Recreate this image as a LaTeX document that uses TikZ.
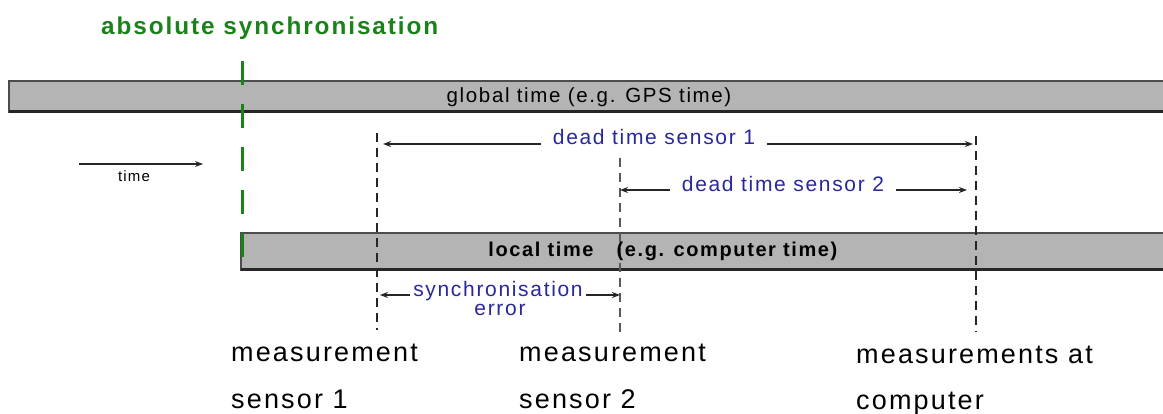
\documentclass[tikz,border=0pt]{standalone}
\usepackage{fontspec}
\setmainfont{Liberation Sans}
\newfontfamily\wideface[LetterSpace=8]{Liberation Sans}
\usetikzlibrary{arrows.meta}
\definecolor{syncgreen}{RGB}{25,130,25}
\definecolor{deadblue}{RGB}{40,40,155}
\definecolor{bargray}{RGB}{180,180,180}

\begin{document}
\begin{tikzpicture}[x=1pt, y=-1pt,
    timebar/.style={fill=bargray, draw=black!70, line width=1.2pt},
    barfoot/.style={line width=3pt, black!85},
    marker/.style={draw=black!85, line width=1.4pt, dash pattern=on 9pt off 6pt},
    syncline/.style={draw=syncgreen, line width=3pt, dash pattern=on 24pt off 19pt},
    dimarrow/.style={-{Stealth[length=8pt,width=6pt]}, line width=1.4pt, black!85},
    bluelabel/.style={text=deadblue, font=\wideface\fontsize{21}{25}\selectfont,
        inner sep=0pt, anchor=base},
    barlabel/.style={font=\wideface\fontsize{20.5}{24}\selectfont, inner sep=0pt,
        anchor=base},
    eventlabel/.style={font=\wideface\fontsize{27}{32}\selectfont, inner sep=0pt,
        anchor=base west}]
    \useasboundingbox (0,0) rectangle (1163,414);
    \filldraw[timebar] (9,81) rectangle (1180,112);
    \draw[barfoot] (9,112) -- (1180,112);
    \filldraw[timebar] (241,233) rectangle (1180,270);
    \draw[barfoot] (241,270) -- (1180,270);
    \coordinate (synctop) at (242,61);
    \coordinate (syncbot) at (242,257);
    \draw[syncline] (synctop) -- (syncbot);
    \coordinate (s1top) at (377,133);
    \coordinate (s1bot) at (377,330);
    \coordinate (s2top) at (620,158);
    \coordinate (s2bot) at (620,332);
    \coordinate (pctop) at (976,136);
    \coordinate (pcbot) at (976,332);
    \draw[marker] (s1top) -- (s1bot);
    \draw[marker, draw=black!65, line width=2pt] (s2top) -- (s2bot);
    \draw[marker] (pctop) -- (pcbot);
    \node[font=\wideface\bfseries\fontsize{24.3}{29}\selectfont, text=syncgreen,
        anchor=base west, inner sep=0pt] (abs) at (101,35) {absolute synchronisation};
    \node[barlabel] (gps) at (589,103) {global time (e.g. GPS time)};
    \node[barlabel, font=\wideface\bfseries\fontsize{20}{24}\selectfont]
        (loc) at (541,257) {local time};
    \node[barlabel, font=\wideface\bfseries\fontsize{20}{24}\selectfont]
        (pc) at (727,257) {(e.g. computer time)};
    \node[bluelabel, inner xsep=12pt] (dt1) at (654,145) {dead time sensor 1};
    \coordinate (dt1l) at (383,144);
    \coordinate (dt1r) at (973,144);
    \draw[dimarrow] (dt1.west |- dt1l) -- (dt1l);
    \draw[dimarrow] (dt1.east |- dt1r) -- (dt1r);
    \node[bluelabel, inner xsep=12pt] (dt2) at (783,192) {dead time sensor 2};
    \coordinate (dt2l) at (620,190);
    \coordinate (dt2r) at (967,190);
    \draw[dimarrow] (dt2.west |- dt2l) -- (dt2l);
    \draw[dimarrow] (dt2.east |- dt2r) -- (dt2r);
    \node[bluelabel, inner xsep=3pt] (sync) at (498,297) {synchronisation};
    \node[bluelabel] (err) at (500,316) {error};
    \coordinate (errl) at (380,295);
    \coordinate (errr) at (620,295);
    \draw[dimarrow] (sync.west |- errl) -- (errl);
    \draw[dimarrow] (sync.east |- errr) -- (errr);
    \coordinate (tstart) at (79,164);
    \coordinate (tend) at (203,164);
    \draw[dimarrow] (tstart) -- (tend);
    \node[font=\wideface\fontsize{15}{18}\selectfont, anchor=base, inner sep=0pt]
        (tlab) at (134,182) {time};
    \node[eventlabel] (m1) at (231,362) {measurement};
    \node[eventlabel] (m1b) at (231,408) {sensor 1};
    \node[eventlabel] (m2) at (519,362) {measurement};
    \node[eventlabel] (m2b) at (519,408) {sensor 2};
    \node[eventlabel] (m3) at (856,363) {measurements at};
    \node[eventlabel] (m3b) at (856,409) {computer};
\end{tikzpicture}
\end{document}
